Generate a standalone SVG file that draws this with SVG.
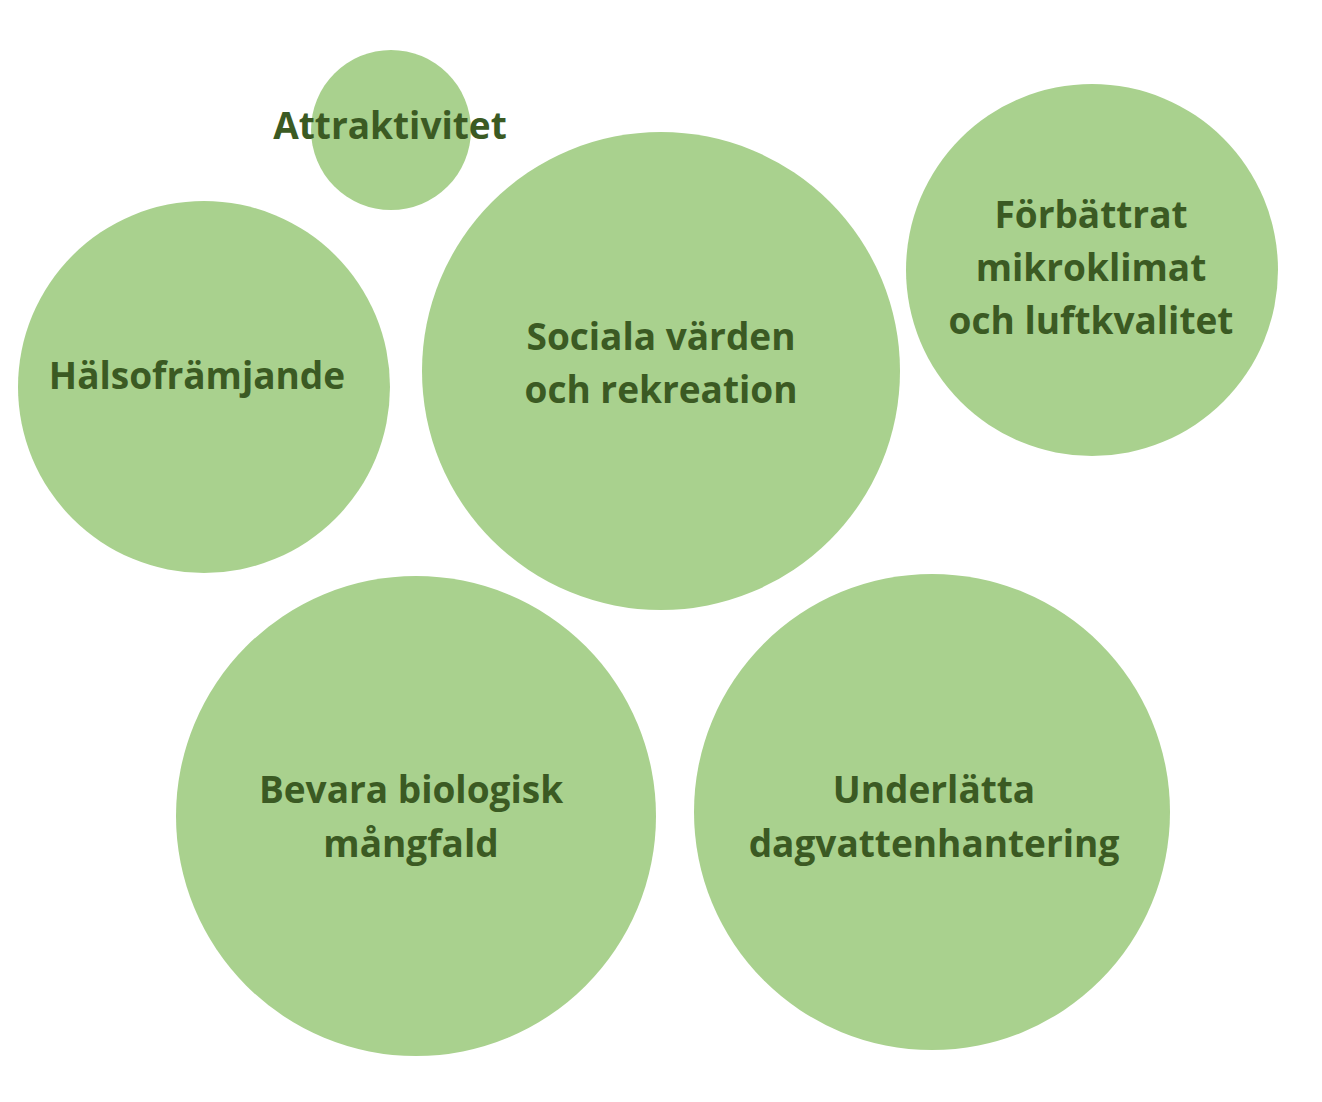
<svg xmlns="http://www.w3.org/2000/svg" width="1322" height="1102" viewBox="0 0 1322 1102">
<style>
.c{fill:#a9d18e}
.t{font-family:"Open Sans","Liberation Sans",sans-serif;font-weight:700;font-size:37px;fill:#3b5a23;text-anchor:middle}
</style>
<rect width="1322" height="1102" fill="#ffffff"/>
<g id="attraktivitet"><circle class="c" cx="391" cy="130" r="80"/><text class="t" x="390" y="139">Attraktivitet</text></g>
<g id="halsoframjande"><circle class="c" cx="204" cy="387" r="186"/><text class="t" x="197" y="389">Hälsofrämjande</text></g>
<g id="sociala"><circle class="c" cx="661" cy="371" r="239"/><text class="t" x="661" y="350">Sociala värden</text><text class="t" x="661" y="403">och rekreation</text></g>
<g id="forbattrat"><circle class="c" cx="1092" cy="270" r="186"/><text class="t" x="1091" y="228">Förbättrat</text><text class="t" x="1091" y="281">mikroklimat</text><text class="t" x="1091" y="334">och luftkvalitet</text></g>
<g id="bevara"><circle class="c" cx="416" cy="816" r="240"/><text class="t" x="411" y="803">Bevara biologisk</text><text class="t" x="411" y="857">mångfald</text></g>
<g id="underlatta"><circle class="c" cx="932" cy="812" r="238"/><text class="t" x="934" y="803">Underlätta</text><text class="t" x="934" y="857">dagvattenhantering</text></g>
<g id="connectors"></g>
</svg>
